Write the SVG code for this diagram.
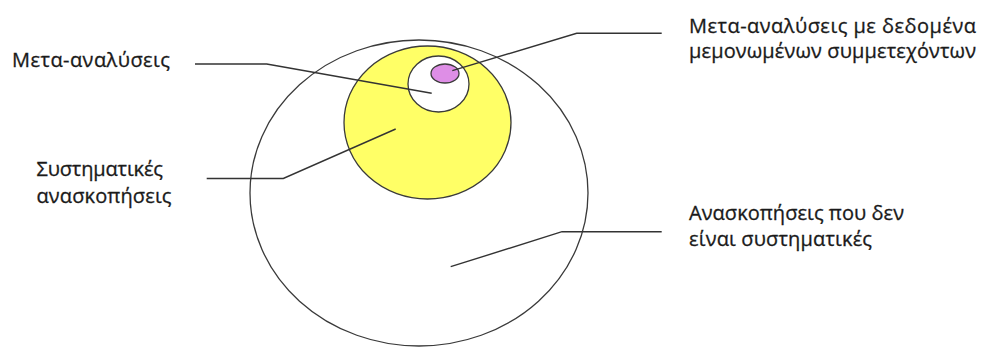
<svg xmlns="http://www.w3.org/2000/svg" width="981" height="347" viewBox="0 0 981 347">
<style>
.lbl{font-family:"Open Sans","Noto Sans","DejaVu Sans",sans-serif;font-size:20px;fill:#1a1a1a;stroke:#1a1a1a;stroke-width:0.3}
.ring{stroke:#3a3a3a;stroke-width:1.3}
.conn{fill:none;stroke:#333;stroke-width:1.4}
</style>
<rect width="981" height="347" fill="#fff"/>
<g id="non-systematic">
<ellipse class="ring" cx="419" cy="193" rx="169" ry="153" fill="#fff"/>
</g>
<g id="systematic">
<ellipse class="ring" cx="427.5" cy="122.5" rx="83.5" ry="76.5" fill="#ffff66"/>
</g>
<g id="meta-analyses">
<ellipse class="ring" cx="438.5" cy="84" rx="30.5" ry="28" fill="#fff"/>
</g>
<g id="ipd-meta-analyses">
<ellipse class="ring" cx="445" cy="73.5" rx="14" ry="9.5" fill="#de8ee6"/>
</g>
<g id="connectors">
<polyline class="conn" points="195,64 266.7,64 431.7,93.3"/>
<polyline class="conn" points="206.7,178.5 283.3,178.5 395.7,129"/>
<polyline class="conn" points="452.3,70.7 576.7,33.3 661.7,33.3"/>
<polyline class="conn" points="450.7,266.7 562,231.7 661.7,231.7"/>
</g>
<g id="labels">
<text class="lbl" x="12" y="66.7" textLength="158" lengthAdjust="spacing">Μετα-αναλύσεις</text>
<text class="lbl" x="36.5" y="175.5" textLength="126.5" lengthAdjust="spacing">Συστηματικές</text>
<text class="lbl" x="36.5" y="202.5" textLength="135" lengthAdjust="spacing">ανασκοπήσεις</text>
<text class="lbl" x="689" y="32.7" textLength="287" lengthAdjust="spacing">Μετα-αναλύσεις με δεδομένα</text>
<text class="lbl" x="689" y="57.7" textLength="287" lengthAdjust="spacing">μεμονωμένων συμμετεχόντων</text>
<text class="lbl" x="689" y="219.5" textLength="215" lengthAdjust="spacing">Ανασκοπήσεις που δεν</text>
<text class="lbl" x="689" y="245.5" textLength="183" lengthAdjust="spacing">είναι συστηματικές</text>
</g>
</svg>
